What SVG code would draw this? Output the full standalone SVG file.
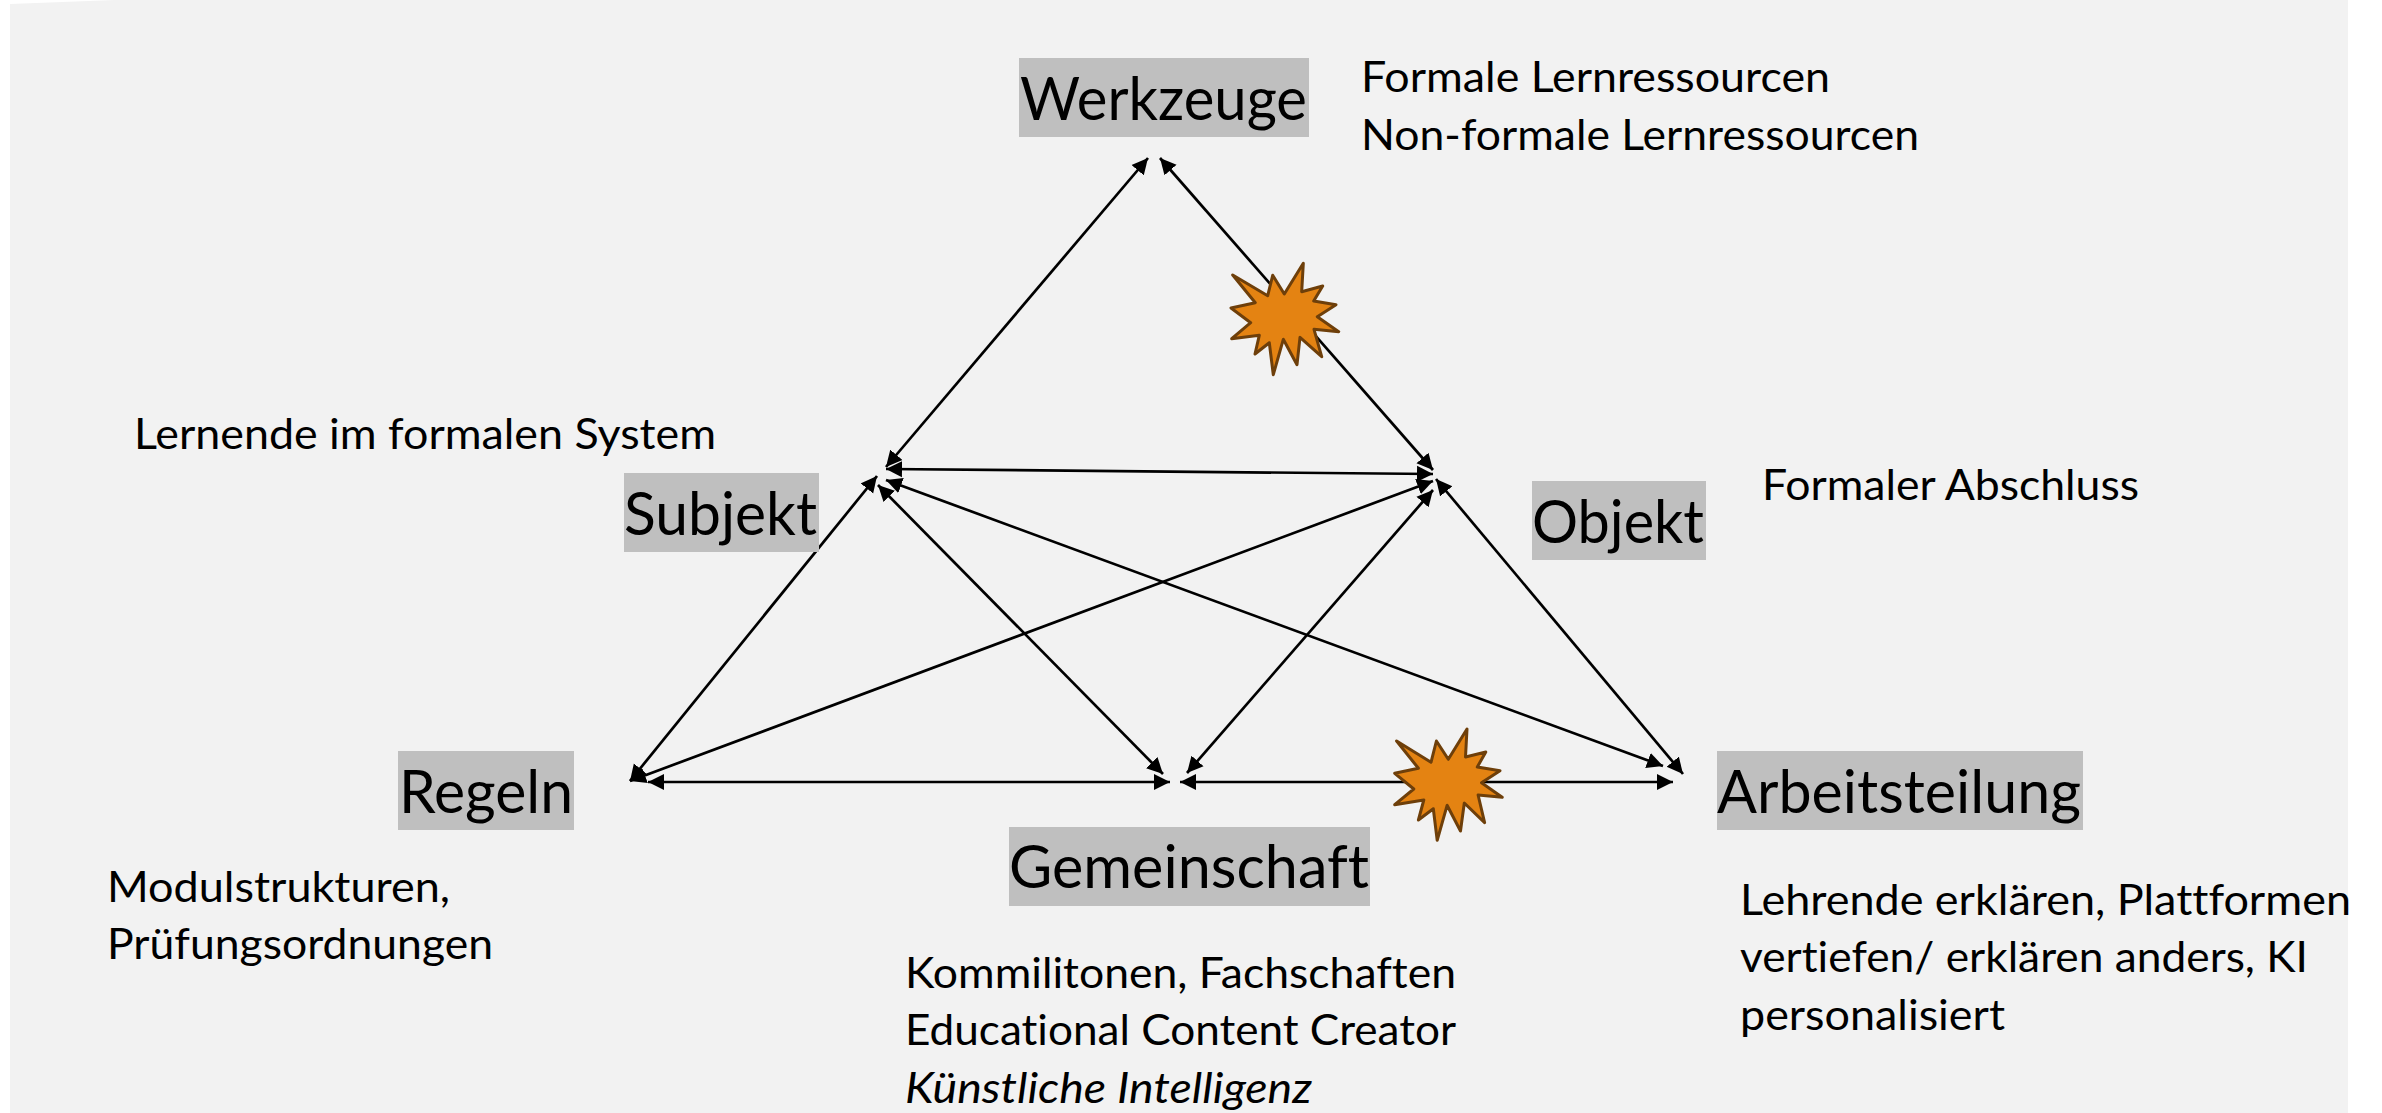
<svg xmlns="http://www.w3.org/2000/svg" width="2382" height="1113" viewBox="0 0 2382 1113">
<style>
text{font-family:Lato,"Liberation Sans",sans-serif;fill:#000;font-variant-ligatures:none}
.l{font-size:60px}
.s{font-size:42.5px}
.box{fill:#bfbfbf}
.c line{stroke:#000;stroke-width:2.7;fill:none;marker-start:url(#a);marker-end:url(#a)}
.star{fill:#e48312;stroke:#6e3f0a;stroke-width:3;stroke-linejoin:round}
</style>
<defs>
<marker id="a" markerUnits="userSpaceOnUse" markerWidth="17" markerHeight="17" refX="16" refY="8.5" orient="auto-start-reverse" viewBox="0 0 17 17"><path d="M0 0.5L16 8.5L0 16.5Z" fill="#000"/></marker>
</defs>
<rect width="2382" height="1113" fill="#fff"/>
<path d="M10 4L115 0H2348V1113H10Z" fill="#f2f2f2"/>
<g id="connectors" class="c">
<line x1="886" y1="467" x2="1148" y2="158"/>
<line x1="1433" y1="470" x2="1160" y2="158"/>
<line x1="886" y1="469" x2="1433" y2="474"/>
<line x1="630" y1="781" x2="877" y2="476"/>
<line x1="1163" y1="774" x2="878" y2="485"/>
<line x1="1663" y1="766" x2="886" y2="480"/>
<line x1="630" y1="781" x2="1433" y2="481"/>
<line x1="1187" y1="773" x2="1433" y2="490"/>
<line x1="1683" y1="774" x2="1436" y2="479"/>
<line x1="648" y1="782" x2="1170" y2="782"/>
<line x1="1180" y1="782" x2="1673" y2="782"/>
</g>
<g id="star-top"><polygon class="star" points="1232.7,275 1267.7,295.7 1272.7,275.3 1284.3,294 1303.3,263.3 1301.7,291.7 1322.7,286 1313.7,301 1336,304.7 1317.3,316.7 1338.7,331.7 1314,329.3 1321.7,356.7 1300,337.3 1297,364.7 1283.3,339.3 1273.3,374.7 1269.3,342.7 1255,354 1259.3,335.3 1231.7,338.7 1250.7,322.7 1231,308 1255.3,302.7"/></g>
<g id="star-bottom"><polygon class="star" points="1396.6,741 1431,762.3 1436.4,741 1448.3,759.3 1467,729 1465.5,757 1485.8,752 1477.3,767 1500,770.7 1481.5,782.7 1502.2,797.3 1478.1,795 1484.6,822.7 1464.3,803 1460.5,831 1447.1,805.3 1437.2,840.3 1433.3,808.7 1418.4,820 1423.8,800 1394.7,804.7 1413.8,789 1394.7,773.3 1418.4,768.3"/></g>
<g id="werkzeuge"><rect class="box" x="1019" y="58" width="290" height="79"/><text class="l" x="1020" y="120" textLength="287" lengthAdjust="spacingAndGlyphs">Werkzeuge</text></g>
<g id="subjekt"><rect class="box" x="624" y="473" width="195" height="79"/><text class="l" x="624" y="535" textLength="193" lengthAdjust="spacingAndGlyphs">Subjekt</text></g>
<g id="objekt"><rect class="box" x="1532" y="481" width="174" height="79"/><text class="l" x="1532" y="543" textLength="172" lengthAdjust="spacingAndGlyphs">Objekt</text></g>
<g id="regeln"><rect class="box" x="398" y="751" width="176" height="79"/><text class="l" x="399" y="813" textLength="174" lengthAdjust="spacingAndGlyphs">Regeln</text></g>
<g id="gemeinschaft"><rect class="box" x="1009" y="827" width="361" height="79"/><text class="l" x="1009" y="888" textLength="360" lengthAdjust="spacingAndGlyphs">Gemeinschaft</text></g>
<g id="arbeitsteilung"><rect class="box" x="1717" y="751" width="366" height="79"/><text class="l" x="1717" y="813" textLength="364" lengthAdjust="spacingAndGlyphs">Arbeitsteilung</text></g>
<g id="note-werkzeuge">
<text class="s" x="1361" y="92" textLength="469" lengthAdjust="spacingAndGlyphs">Formale Lernressourcen</text>
<text class="s" x="1361" y="150" textLength="558" lengthAdjust="spacingAndGlyphs">Non-formale Lernressourcen</text>
</g>
<g id="note-subjekt"><text class="s" x="134" y="449" textLength="582" lengthAdjust="spacingAndGlyphs">Lernende im formalen System</text></g>
<g id="note-objekt"><text class="s" x="1762" y="500" textLength="377" lengthAdjust="spacingAndGlyphs">Formaler Abschluss</text></g>
<g id="note-regeln">
<text class="s" x="107" y="902" textLength="343" lengthAdjust="spacingAndGlyphs">Modulstrukturen,</text>
<text class="s" x="107" y="959" textLength="386" lengthAdjust="spacingAndGlyphs">Prüfungsordnungen</text>
</g>
<g id="note-gemeinschaft">
<text class="s" x="905" y="988" textLength="551" lengthAdjust="spacingAndGlyphs">Kommilitonen, Fachschaften</text>
<text class="s" x="905" y="1045" textLength="551" lengthAdjust="spacingAndGlyphs">Educational Content Creator</text>
<text class="s" x="905" y="1103" font-style="italic" textLength="407" lengthAdjust="spacingAndGlyphs">Künstliche Intelligenz</text>
</g>
<g id="note-arbeitsteilung">
<text class="s" x="1740" y="915" textLength="611" lengthAdjust="spacingAndGlyphs">Lehrende erklären, Plattformen</text>
<text class="s" x="1740" y="972" textLength="568" lengthAdjust="spacingAndGlyphs">vertiefen/ erklären anders, KI</text>
<text class="s" x="1740" y="1030" textLength="265" lengthAdjust="spacingAndGlyphs">personalisiert</text>
</g>
</svg>
